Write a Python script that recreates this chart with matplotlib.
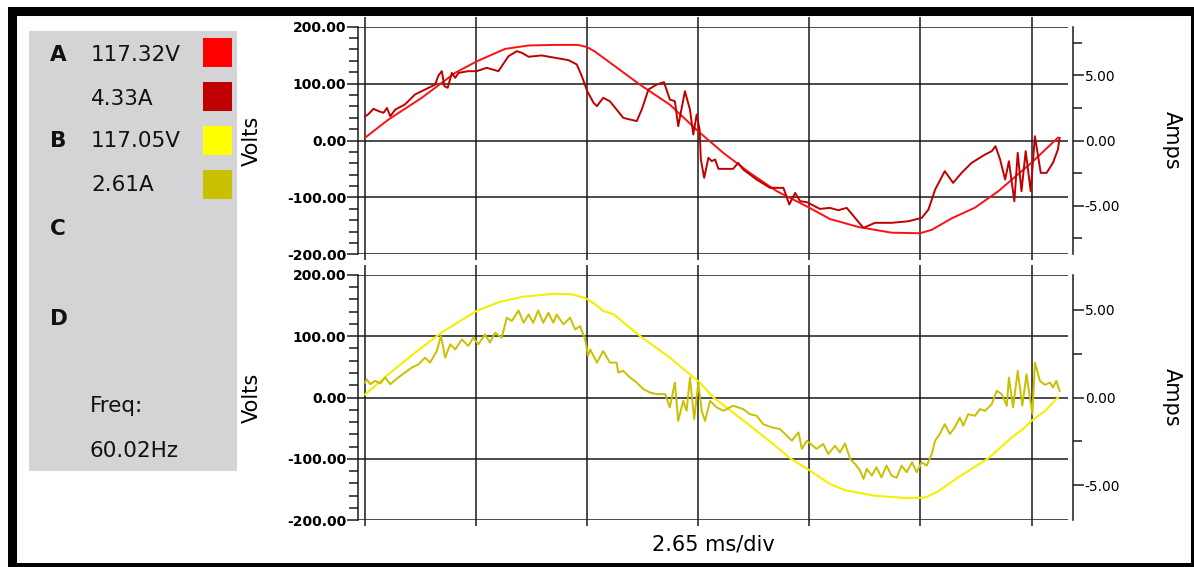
import numpy as np
import matplotlib
matplotlib.use("Agg")
import matplotlib.pyplot as plt
from matplotlib.patches import Rectangle

plt.rcParams['font.family'] = ['DejaVu Sans']

# ==============================================================================
# Data (time in ms)
DIV_MS = 2.65

# Phase A voltage (V)
a_volt_t = [0.00, 0.56, 1.35, 2.15, 2.66, 3.34, 3.90, 4.53, 5.08, 5.30, 5.49, 5.84, 6.56, 7.27, 7.95,
            8.55, 9.18, 9.82, 10.57, 11.09, 11.77, 12.56, 13.24, 13.52, 13.99, 14.55, 15.11, 15.90, 16.53]
a_volt = [5, 37, 75, 119, 139, 161, 167, 168, 168, 164, 156, 137, 98, 63, 16,
          -22, -57, -89, -117, -138, -152, -162, -163, -157, -137, -118, -89, -39, 5]

# Phase A current (A)
a_amp_t = [0.00, 0.07, 0.20, 0.32, 0.44, 0.52, 0.60, 0.72, 0.95, 1.19, 1.43, 1.67, 1.75, 1.83, 1.89,
           1.97, 2.07, 2.15, 2.23, 2.46, 2.66, 2.90, 3.18, 3.42, 3.62, 3.74, 3.90, 4.21, 4.53, 4.85,
           5.05, 5.17, 5.30, 5.45, 5.53, 5.68, 5.84, 6.16, 6.48, 6.60, 6.76, 6.96, 7.13, 7.27, 7.39,
           7.47, 7.63, 7.75, 7.83, 7.91, 7.98, 8.01, 8.09, 8.19, 8.27, 8.35, 8.43, 8.78, 8.90, 9.02,
           9.34, 9.66, 9.98, 10.12, 10.26, 10.38, 10.54, 10.85, 11.09, 11.29, 11.49, 11.69, 11.89,
           12.16, 12.56, 12.96, 13.28, 13.44, 13.60, 13.83, 14.03, 14.23, 14.47, 14.79, 14.95, 15.04,
           15.15, 15.27, 15.36, 15.49, 15.57, 15.66, 15.76, 15.88, 15.98, 16.12, 16.26, 16.41, 16.53,
           16.57]
a_amp = [1.87, 2.00, 2.44, 2.26, 2.13, 2.50, 1.87, 2.38, 2.77, 3.54, 3.92, 4.30, 5.00, 5.33, 4.18,
         4.05, 5.20, 4.82, 5.20, 5.33, 5.33, 5.59, 5.33, 6.48, 6.87, 6.74, 6.44, 6.54, 6.36, 6.18,
         5.85, 4.95, 3.79, 2.90, 2.64, 3.28, 3.02, 1.74, 1.49, 2.38, 3.92, 4.31, 4.49, 3.15, 3.02,
         1.10, 3.79, 2.38, 0.46, 2.00, 0.85, -1.46, -2.87, -1.33, -1.59, -1.46, -2.18, -2.18, -1.72, -2.23,
         -3.00, -3.64, -3.64, -4.92, -4.03, -4.67, -4.74, -5.26, -5.18, -5.36, -5.18, -5.95, -6.72,
         -6.33, -6.33, -6.21, -5.95, -5.31, -3.77, -2.36, -3.26, -2.49, -1.72, -1.08, -0.82, -0.44,
         -1.46, -3.00, -1.59, -4.67, -0.95, -3.90, -0.82, -3.90, 0.33, -2.49, -2.49, -1.72, -0.69,
         0.20]

# Phase B voltage (V)
b_volt_t = [0.00, 0.56, 1.19, 1.83, 2.66, 3.18, 3.74, 4.53, 4.93, 5.25, 5.49, 5.68, 5.92, 6.56, 7.27,
            7.99, 8.31, 8.94, 9.74, 10.14, 10.57, 11.09, 11.45, 12.16, 12.96, 13.36, 13.67, 14.15,
            14.87, 15.43, 15.74, 15.90, 16.22, 16.53]
b_volt = [5, 38, 73, 106, 141, 155, 164, 169, 168, 162, 152, 141, 136, 100, 65,
          24, 0, -33, -76, -99, -117, -141, -151, -160, -164, -163, -153, -130,
          -99, -65, -49, -38, -22, 0]

# Phase B current (A)
b_amp_t = [0.00, 0.04, 0.12, 0.24, 0.36, 0.48, 0.60, 0.79, 0.95, 1.11, 1.27, 1.43, 1.55, 1.71, 1.81,
           1.91, 2.03, 2.15, 2.31, 2.46, 2.58, 2.70, 2.86, 2.98, 3.10, 3.26, 3.38, 3.50, 3.66, 3.78,
           3.90, 4.01, 4.13, 4.25, 4.37, 4.49, 4.57, 4.73, 4.89, 5.01, 5.13, 5.25, 5.32, 5.37, 5.53,
           5.68, 5.84, 6.00, 6.04, 6.16, 6.32, 6.48, 6.64, 6.80, 6.96, 7.16, 7.27, 7.39, 7.47, 7.59,
           7.67, 7.75, 7.85, 7.95, 8.03, 8.11, 8.23, 8.39, 8.55, 8.78, 9.02, 9.18, 9.34, 9.50, 9.70,
           9.90, 10.06, 10.18, 10.34, 10.42, 10.54, 10.77, 10.93, 11.05, 11.21, 11.33, 11.45, 11.57,
           11.69, 11.81, 11.89, 11.97, 12.09, 12.20, 12.32, 12.44, 12.56, 12.68, 12.80, 12.92, 13.05,
           13.16, 13.28, 13.40, 13.52, 13.60, 13.71, 13.83, 13.95, 14.07, 14.19, 14.27, 14.39, 14.55,
           14.67, 14.79, 14.95, 15.07, 15.19, 15.31, 15.36, 15.46, 15.57, 15.68, 15.78, 15.86, 15.92,
           15.98, 16.10, 16.22, 16.34, 16.41, 16.49, 16.57]
b_amp = [0.85, 1.04, 0.76, 0.95, 0.80, 1.14, 0.76, 1.14, 1.42, 1.70, 1.89, 2.27, 1.99, 2.65, 3.50,
         2.27, 3.03, 2.74, 3.31, 2.94, 3.41, 3.03, 3.60, 3.13, 3.69, 3.41, 4.55, 4.36, 4.96, 4.26,
         4.73, 4.26, 4.96, 4.26, 4.83, 4.26, 4.73, 4.17, 4.55, 3.88, 4.07, 3.31, 2.37, 2.74, 1.99,
         2.65, 1.99, 1.99, 1.42, 1.52, 1.14, 0.85, 0.47, 0.28, 0.19, 0.19, -0.57, 0.85, -1.33, -0.19,
         -0.76, 1.14, -1.23, 0.85, -0.76, -1.33, -0.19, -0.57, -0.76, -0.47, -0.66, -0.95, -1.04, -1.52, -1.70,
         -1.80, -2.18, -2.46, -1.99, -2.93, -2.46, -2.93, -2.65, -3.22, -2.75, -3.13, -2.61, -3.50,
         -3.79, -4.17, -4.64, -4.07, -4.45, -3.98, -4.55, -3.88, -4.45, -4.58, -3.88, -4.26, -3.69,
         -4.26, -3.69, -3.88, -3.22, -2.46, -2.08, -1.52, -2.08, -1.70, -1.14, -1.61, -0.95, -1.04,
         -0.66, -0.76, -0.38, 0.38, 0.19, -0.47, 1.14, -0.57, 1.52, -0.47, 1.33, 0.00, -0.95,
         1.99, 0.95, 0.72, 0.85, 0.57, 0.95, 0.38]

# Legend panel
phase_names = ['A', 'B', 'C', 'D']
readings = ['117.32V', '4.33A', '117.05V', '2.61A']
trace_colors = ['#ff1010', '#c00000', '#f4f000', '#c8c000']
swatch_colors = ['#ff0000', '#c00000', '#ffff00', '#c8c000']
freq_label = 'Freq:'
freq_value = '60.02Hz'

volt_ticks = [-200, -100, 0, 100, 200]
amp_ticks = [-5, 0, 5]

# ==============================================================================
W, H = 1194, 567
GRID_C = '#1a1a1a'
GRID_W = 1.1


def fx(x):
    return x / W


def fy(y):
    return 1 - y / H


def setup_panel(ax, amp_lim, amp_minor):
    ax.set_xlim(-0.17, 16.77)
    ax.set_ylim(-200, 200)
    ax.set_xticks(np.arange(7) * DIV_MS)
    ax.set_xticklabels([])
    ax.set_yticks(volt_ticks)
    ax.set_yticklabels([f'{v:.2f}' for v in volt_ticks], fontweight='bold', fontsize=10)
    ax.set_yticks(np.arange(-200, 201, 20), minor=True)
    ax.grid(True, which='major', color=GRID_C, lw=GRID_W)
    ax.tick_params(axis='y', which='major', direction='out', length=8, width=GRID_W, pad=0.5, color=GRID_C)
    ax.tick_params(axis='y', which='minor', direction='out', length=6.5, width=GRID_W, color=GRID_C)
    ax.tick_params(axis='x', which='major', direction='out', length=4, width=GRID_W, color=GRID_C,
                   bottom=True, top=False, labelbottom=False)
    for side in ['top', 'bottom', 'right']:
        ax.spines[side].set_visible(False)
    ax.spines['left'].set_linewidth(GRID_W)
    ax.spines['left'].set_color(GRID_C)
    ax.set_ylabel('Volts', fontsize=15)
    ax.yaxis.set_label_coords(-0.135, 0.5)

    ax2 = ax.twinx()
    ax2.set_ylim(-amp_lim, amp_lim)
    ax2.set_yticks(amp_ticks)
    ax2.set_yticklabels([f'{v:.2f}' for v in amp_ticks], fontweight='bold', fontsize=10)
    ax2.set_yticks(amp_minor, minor=True)
    ax2.tick_params(axis='y', which='major', direction='out', length=8, width=GRID_W, pad=0.5, color=GRID_C)
    ax2.tick_params(axis='y', which='minor', direction='out', length=6.5, width=GRID_W, color=GRID_C)
    ax2.xaxis.set_visible(True)
    ax2.tick_params(axis='x', which='major', direction='out', length=7, width=GRID_W, color=GRID_C,
                    top=True, bottom=False, labeltop=False, labelbottom=False)
    for side in ['top', 'bottom', 'left']:
        ax2.spines[side].set_visible(False)
    ax2.spines['right'].set_position(('outward', 3.6))
    ax2.spines['right'].set_linewidth(GRID_W)
    ax2.spines['right'].set_color(GRID_C)
    ax2.set_ylabel('Amps', fontsize=15, rotation=270, va='bottom')
    ax2.yaxis.set_label_coords(1.132, 0.5)
    return ax2


# ==============================================================================
fig = plt.figure(figsize=(W / 100, H / 100), dpi=100)
fig.patch.set_facecolor('white')

top_ax = fig.add_axes([fx(358), fy(254.3), fx(710), (254.3 - 26.7) / H])
bot_ax = fig.add_axes([fx(358), fy(520.3), fx(710), (520.3 - 274.7) / H])

top_amp = setup_panel(top_ax, 8.75, [-7.5, -2.5, 2.5, 7.5])
bot_amp = setup_panel(bot_ax, 7.0, [-2.5, 2.5])

top_ax.plot(a_volt_t, a_volt, color=trace_colors[0], lw=1.4)
top_amp.plot(a_amp_t, a_amp, color=trace_colors[1], lw=1.4)
bot_ax.plot(b_volt_t, b_volt, color=trace_colors[2], lw=1.5)
bot_amp.plot(b_amp_t, b_amp, color=trace_colors[3], lw=1.4)

bot_ax.set_xlabel(f'{DIV_MS} ms/div', fontsize=15)
bot_ax.xaxis.set_label_coords(0.5, -0.058)

# Legend panel
fig.patches.append(Rectangle((fx(29), fy(471)), fx(208), 440 / H, transform=fig.transFigure,
                             facecolor='#d4d3d6', edgecolor='none', zorder=0))
phase_y = [55, 141, 229, 319]
for name, y in zip(phase_names, phase_y):
    fig.text(fx(50), fy(y), name, fontsize=15.5, fontweight='bold', va='center', color='#111111')
read_y = [55, 99, 141, 185]
swatch_top = [38, 82, 126, 170]
for text, y, col, st in zip(readings, read_y, swatch_colors, swatch_top):
    fig.text(fx(91), fy(y), text, fontsize=15.5, va='center', color='#111111')
    fig.patches.append(Rectangle((fx(203), fy(st + 29)), fx(29), 29 / H, transform=fig.transFigure,
                                 facecolor=col, edgecolor='none', zorder=1))
fig.text(fx(90), fy(406), freq_label, fontsize=15.5, va='center', color='#111111')
fig.text(fx(90), fy(451), freq_value, fontsize=15.5, va='center', color='#111111')

# Thick black frame
fig.patches.append(Rectangle((fx(11.5), fy(566.5)), fx(1194.5 - 11.5), (566.5 - 10.5) / H,
                             transform=fig.transFigure, facecolor='none', edgecolor='black',
                             lw=6.5, zorder=5))

fig.savefig('out.png', dpi=100)
